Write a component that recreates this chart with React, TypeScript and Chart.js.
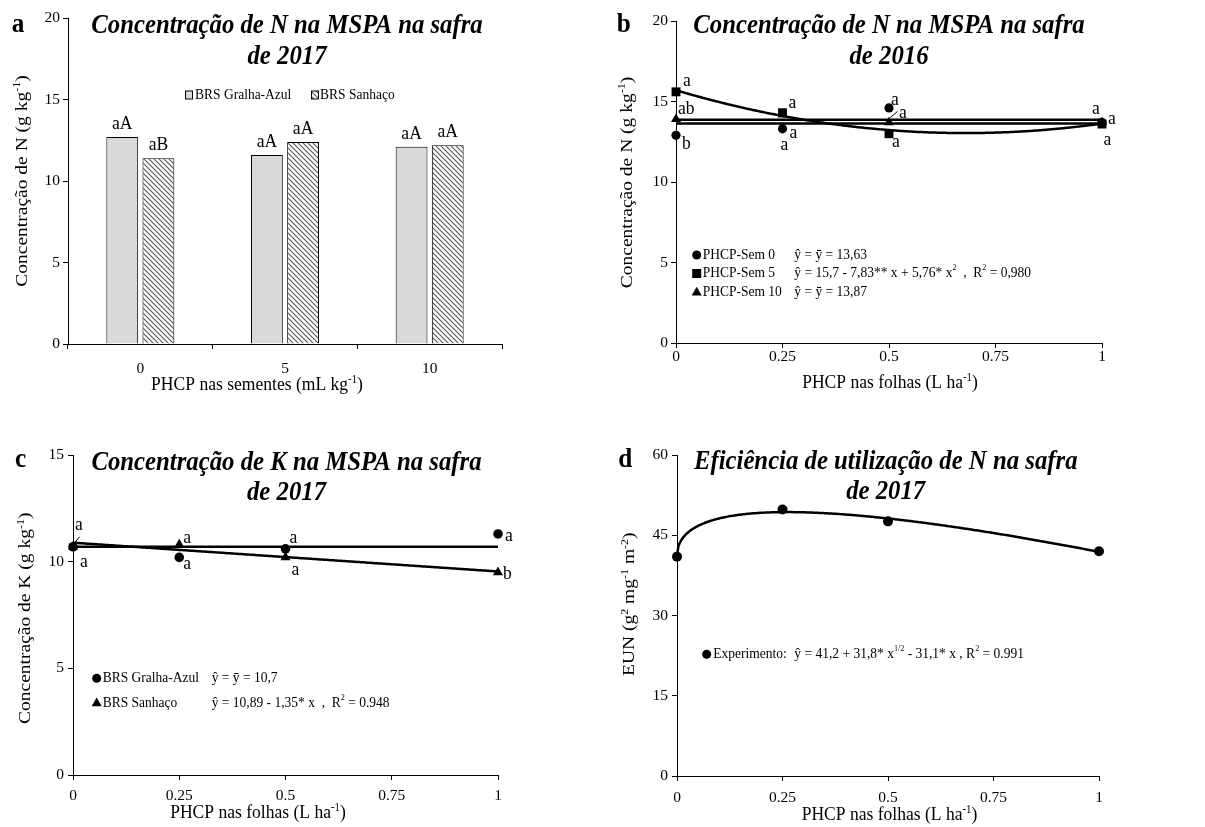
import React, { useEffect, useRef } from "react";
import { Chart, registerables } from "chart.js";

Chart.register(...registerables);

const SERIF = '"Liberation Serif", "Times New Roman", Times, serif';
const SX = 0.9;
Chart.defaults.font.family = SERIF;
Chart.defaults.color = "#000";

// ===== Panel a: N concentration 2017 (bars) =====
const seedDoseLabels = ["0", "5", "10"];
const nGralhaAzul2017 = [12.7, 11.6, 12.1];
const nSanhaco2017 = [11.4, 12.4, 12.2];
const lettersGralhaAzul2017 = ["aA", "aA", "aA"];
const lettersSanhaco2017 = ["aB", "aA", "aA"];
const yTicksN = [0, 5, 10, 15, 20];

// ===== Panel b: N concentration 2016 =====
const leafDoses = [0, 0.25, 0.5, 1];
const xTicksLeaf = [0, 0.25, 0.5, 0.75, 1];
const nSem0_2016 = [12.9, 13.3, 14.6, 13.7];
const nSem5_2016 = [15.6, 14.3, 13.0, 13.6];
const nSem10_2016 = [13.9, 14.2, 13.7, 13.7];
const lettersSem0 = ["b", "a", "a", "a"];
const lettersSem5 = ["a", "a", "a", "a"];
const lettersSem10 = ["ab", "a", "a", "a"];
const fitSem0 = [13.63];
const fitSem5 = [15.7, -7.83, 5.76];
const fitSem10 = [13.87];

// ===== Panel c: K concentration 2017 =====
const kGralhaAzul2017 = [10.7, 10.2, 10.6, 11.3];
const kSanhaco2017 = [10.7, 10.8, 10.2, 9.5];
const lettersKGralha = ["a", "a", "a", "a"];
const lettersKSanhaco = ["a", "a", "a", "b"];
const fitKGralha = [10.7];
const fitKSanhaco = [10.89, -1.35];
const yTicksK = [0, 5, 10, 15];

// ===== Panel d: N use efficiency 2017 =====
const eun2017 = [41.0, 49.8, 47.6, 42.0];
const fitEun = [41.2, 31.8, -31.1]; // a + b*sqrt(x) + c*x
const yTicksEun = [0, 15, 30, 45, 60];

// ===== styling offsets for letters (dx to left edge, dy to centre) =====
const offSem5 = [[7, -11], [6, -10], [3, 8], [1.5, 16]];
const offSem0 = [[6, 9], [7, 4.5], [2, -8], [6, -4]];
const offSem10 = [[2, -10], [-2, 30], [10, -10], [-10, -14]];
const offKGralha = [[7, 15], [4, 6], [4, -11], [7, 2]];
const offKSanhaco = [[2, -22], [4, -7], [6, 12], [5, 2]];

type Seg = { t: string; sup?: boolean };
type TextItem = {
  segs: Seg[];
  x: number;
  y: number;
  size: number;
  align?: "left" | "center";
  style?: string;
  rotate?: boolean;
  baseline?: CanvasTextBaseline;
};
const S = (t: string): Seg => ({ t });
const U = (t: string): Seg => ({ t, sup: true });

function drawRich(ctx: CanvasRenderingContext2D, it: TextItem) {
  const pre = it.style ? it.style + " " : "";
  const main = `${pre}${it.size}px ${SERIF}`;
  const small = `${pre}${Math.round(it.size * 0.62)}px ${SERIF}`;
  const widths = it.segs.map((s) => {
    ctx.font = s.sup ? small : main;
    return ctx.measureText(s.t).width;
  });
  const total = widths.reduce((a, b) => a + b, 0);
  ctx.save();
  ctx.translate(it.x, it.y);
  if (it.rotate) {
    ctx.rotate(-Math.PI / 2);
    ctx.scale(1, SX);
  } else {
    ctx.scale(SX, 1);
  }
  let cx = it.align === "center" ? -total / 2 : 0;
  ctx.fillStyle = "#000";
  ctx.textAlign = "left";
  ctx.textBaseline = it.baseline || "alphabetic";
  it.segs.forEach((s, i) => {
    ctx.font = s.sup ? small : main;
    ctx.fillText(s.t, cx, s.sup ? -it.size * 0.36 : 0);
    cx += widths[i];
  });
  ctx.restore();
}

function drawMarker(ctx: CanvasRenderingContext2D, kind: string, x: number, y: number) {
  ctx.save();
  ctx.fillStyle = "#000";
  ctx.beginPath();
  if (kind === "circle") {
    ctx.arc(x, y, 4.5, 0, Math.PI * 2);
  } else if (kind === "rect") {
    ctx.rect(x - 4.5, y - 4.5, 9, 9);
  } else {
    const r = 5.8;
    ctx.moveTo(x, y - r);
    ctx.lineTo(x + r * 0.866, y + r / 2);
    ctx.lineTo(x - r * 0.866, y + r / 2);
    ctx.closePath();
  }
  ctx.fill();
  ctx.restore();
}

function textPlugin(getItems: (chart: any) => TextItem[], extra?: (chart: any, ctx: CanvasRenderingContext2D) => void) {
  return {
    id: "texts",
    afterDraw(chart: any) {
      const ctx = chart.ctx as CanvasRenderingContext2D;
      if (extra) extra(chart, ctx);
      getItems(chart).forEach((it) => drawRich(ctx, it));
    },
  };
}

type Fit = { kind: "poly" | "sqrt"; c: number[] };
function evalFit(f: Fit, x: number) {
  if (f.kind === "sqrt") return f.c[0] + f.c[1] * Math.sqrt(x) + f.c[2] * x;
  return f.c.reduce((acc, ck, k) => acc + ck * Math.pow(x, k), 0);
}
function fitPlugin(fits: Fit[]) {
  return {
    id: "fits",
    beforeDatasetsDraw(chart: any) {
      const { ctx, scales } = chart;
      const xs = scales.x;
      const ys = scales.y;
      const x0 = Math.min(...leafDoses);
      const x1 = Math.max(...leafDoses);
      ctx.save();
      ctx.strokeStyle = "#000";
      ctx.lineWidth = 2.5;
      ctx.lineJoin = "round";
      fits.forEach((f) => {
        ctx.beginPath();
        const n = 300;
        for (let k = 0; k <= n; k++) {
          const xv = x0 + ((x1 - x0) * k) / n;
          const px = xs.getPixelForValue(xv);
          const py = ys.getPixelForValue(evalFit(f, xv));
          if (k === 0) ctx.moveTo(px, py);
          else ctx.lineTo(px, py);
        }
        ctx.stroke();
      });
      ctx.restore();
    },
  };
}

const LETTER_SIZE = 19.5;

function pointLetters(chart: any, ds: number, letters: string[], offs: number[][]): TextItem[] {
  const meta = chart.getDatasetMeta(ds);
  return letters.map((t, i) => {
    const el = meta.data[i];
    return { segs: [S(t)], x: el.x + offs[i][0], y: el.y + offs[i][1], size: LETTER_SIZE, baseline: "middle" as CanvasTextBaseline };
  });
}

function makeHatch(ctxRef: CanvasRenderingContext2D) {
  const c = document.createElement("canvas");
  c.width = 5;
  c.height = 5;
  const g = c.getContext("2d")!;
  g.fillStyle = "#fff";
  g.fillRect(0, 0, 5, 5);
  g.strokeStyle = "#555";
  g.lineWidth = 1.1;
  g.beginPath();
  g.moveTo(-1, -1);
  g.lineTo(6, 6);
  g.moveTo(-1, 4);
  g.lineTo(1, 6);
  g.moveTo(4, -1);
  g.lineTo(6, 1);
  g.stroke();
  return ctxRef.createPattern(c, "repeat");
}

function scaleBase(ticksArr: number[] | null, w: number | null, h: number | null, pad: number, extra: any = {}) {
  const s: any = {
    border: { display: true, color: "#000", width: 1 },
    grid: { display: true, drawOnChartArea: false, drawTicks: true, tickLength: 5, color: "#000", lineWidth: 1 },
    ticks: { color: "#000", font: { family: SERIF, size: 15.5 }, padding: pad, autoSkip: false, maxRotation: 0 },
    afterFit: (sc: any) => {
      if (w !== null) sc.width = w;
      if (h !== null) sc.height = h;
    },
    ...extra,
  };
  if (ticksArr) {
    s.afterBuildTicks = (sc: any) => {
      sc.ticks = ticksArr.map((v) => ({ value: v }));
    };
    s.ticks.callback = (v: any) => String(v);
  }
  return s;
}

function baseOptions(W: number, H: number, area: { l: number; t: number; r: number; b: number }, xScale: any, yScale: any) {
  return {
    responsive: false,
    animation: false,
    devicePixelRatio: 1,
    events: [],
    layout: { padding: { left: 0, top: area.t, right: W - area.r, bottom: 0 } },
    plugins: { legend: { display: false }, tooltip: { enabled: false }, title: { display: false } },
    scales: { x: xScale, y: yScale },
  };
}

function configA(canvas: HTMLCanvasElement) {
  const W = 600, H = 400;
  const area = { l: 68, t: 18, r: 502, b: 344 };
  const hatch = makeHatch(canvas.getContext("2d")!);
  return {
    type: "bar",
    data: {
      labels: seedDoseLabels,
      datasets: [
        { label: "BRS Gralha-Azul", data: nGralhaAzul2017, backgroundColor: "#d9d9d9", borderColor: "#000", borderWidth: 1, barPercentage: 0.88, categoryPercentage: 0.5 },
        { label: "BRS Sanhaço", data: nSanhaco2017, backgroundColor: hatch, borderColor: "#000", borderWidth: 1, barPercentage: 0.88, categoryPercentage: 0.5 },
      ],
    },
    options: baseOptions(
      W, H, area,
      scaleBase(null, null, H - area.b, 11, { type: "category", grid: { display: true, drawOnChartArea: false, drawTicks: true, tickLength: 5, color: "#000", offset: true } }),
      scaleBase(yTicksN, area.l, null, 3, { type: "linear", min: 0, max: 20 })
    ),
    plugins: [
      textPlugin(
        (chart) => {
          const items: TextItem[] = [
            { segs: [S("a")], x: 11.7, y: 31.7, size: 28, style: "bold" },
            { segs: [S("Concentração de N na MSPA na safra")], x: 287, y: 33, size: 27.5, style: "italic bold", align: "center" },
            { segs: [S("de 2017")], x: 287, y: 64, size: 27.5, style: "italic bold", align: "center" },
            { segs: [S("Concentração de N (g kg"), U("-1"), S(")")], x: 26.7, y: 181, size: 19.5, rotate: true, align: "center" },
            { segs: [S("PHCP nas sementes (mL kg"), U("-1"), S(")")], x: 257, y: 390, size: 19.5, align: "center" },
            { segs: [S("BRS Gralha-Azul")], x: 195, y: 95.5, size: 15, baseline: "middle" },
            { segs: [S("BRS Sanhaço")], x: 320, y: 95.5, size: 15, baseline: "middle" },
          ];
          [lettersGralhaAzul2017, lettersSanhaco2017].forEach((L, ds) => {
            const meta = chart.getDatasetMeta(ds);
            L.forEach((t, i) => {
              const el = meta.data[i];
              items.push({ segs: [S(t)], x: el.x, y: el.y - 8, size: LETTER_SIZE, align: "center" });
            });
          });
          return items;
        },
        (chart, ctx) => {
          ctx.save();
          ctx.lineWidth = 1;
          ctx.strokeStyle = "#000";
          ctx.fillStyle = "#d9d9d9";
          ctx.fillRect(185.5, 91, 7, 8);
          ctx.strokeRect(185.5, 91, 7, 8);
          ctx.fillStyle = hatch as any;
          ctx.fillRect(311.5, 91, 7, 8);
          ctx.strokeRect(311.5, 91, 7, 8);
          ctx.restore();
        }
      ),
    ],
  };
}

function leafScatter(values: number[]) {
  return leafDoses.map((x, i) => ({ x, y: values[i] }));
}

function pointDs(label: string, values: number[], style: string, r: number) {
  return { label, data: leafScatter(values), pointStyle: style, pointRadius: r, backgroundColor: "#000", borderColor: "#000", borderWidth: 0, showLine: false, clip: false };
}

function configB() {
  const W = 605, H = 400;
  const area = { l: 76, t: 21, r: 502, b: 343 };
  return {
    type: "scatter",
    data: {
      datasets: [
        pointDs("PHCP-Sem 5", nSem5_2016, "rect", 6.3),
        pointDs("PHCP-Sem 0", nSem0_2016, "circle", 4.6),
        pointDs("PHCP-Sem 10", nSem10_2016, "triangle", 5.8),
      ],
    },
    options: baseOptions(
      W, H, area,
      scaleBase(xTicksLeaf, null, H - area.b, 0, { type: "linear", min: 0, max: 1 }),
      scaleBase(yTicksN, area.l, null, 3, { type: "linear", min: 0, max: 20 })
    ),
    plugins: [
      fitPlugin([
        { kind: "poly", c: fitSem0 },
        { kind: "poly", c: fitSem10 },
        { kind: "poly", c: fitSem5 },
      ]),
      textPlugin(
        (chart) => {
          const items: TextItem[] = [
            { segs: [S("b")], x: 16.7, y: 31.7, size: 28, style: "bold" },
            { segs: [S("Concentração de N na MSPA na safra")], x: 289, y: 33, size: 27.5, style: "italic bold", align: "center" },
            { segs: [S("de 2016")], x: 289, y: 64, size: 27.5, style: "italic bold", align: "center" },
            { segs: [S("Concentração de N (g kg"), U("-1"), S(")")], x: 31.7, y: 182.5, size: 19.5, rotate: true, align: "center" },
            { segs: [S("PHCP nas folhas (L ha"), U("-1"), S(")")], x: 290, y: 388.3, size: 19.5, align: "center" },
            { segs: [S("PHCP-Sem 0")], x: 102.7, y: 255, size: 15, baseline: "middle" },
            { segs: [S("ŷ = ȳ = 13,63")], x: 194.3, y: 255, size: 15, baseline: "middle" },
            { segs: [S("PHCP-Sem 5")], x: 102.7, y: 273.5, size: 15, baseline: "middle" },
            { segs: [S("ŷ = 15,7 - 7,83** x + 5,76* x"), U("2"), S("  ,  R"), U("2"), S(" = 0,980")], x: 194.3, y: 273.5, size: 15, baseline: "middle" },
            { segs: [S("PHCP-Sem 10")], x: 102.7, y: 292.5, size: 15, baseline: "middle" },
            { segs: [S("ŷ = ȳ = 13,87")], x: 194.3, y: 292.5, size: 15, baseline: "middle" },
          ];
          return items
            .concat(pointLetters(chart, 0, lettersSem5, offSem5))
            .concat(pointLetters(chart, 1, lettersSem0, offSem0))
            .concat(pointLetters(chart, 2, lettersSem10, offSem10));
        },
        (chart, ctx) => {
          drawMarker(ctx, "circle", 96.7, 255);
          drawMarker(ctx, "rect", 96.7, 273.5);
          drawMarker(ctx, "triangle", 96.7, 292.5);
          const p = chart.getDatasetMeta(2).data[2];
          ctx.save();
          ctx.strokeStyle = "#000";
          ctx.lineWidth = 1;
          ctx.beginPath();
          ctx.moveTo(p.x + 1.5, p.y - 5);
          ctx.lineTo(p.x + 8.5, p.y - 11);
          ctx.stroke();
          ctx.restore();
        }
      ),
    ],
  };
}

function configC() {
  const W = 600, H = 417;
  const area = { l: 73, t: 45, r: 498, b: 365 };
  return {
    type: "scatter",
    data: {
      datasets: [
        pointDs("BRS Gralha-Azul", kGralhaAzul2017, "circle", 4.8),
        pointDs("BRS Sanhaço", kSanhaco2017, "triangle", 5.8),
      ],
    },
    options: baseOptions(
      W, H, area,
      scaleBase(xTicksLeaf, null, H - area.b, 7, { type: "linear", min: 0, max: 1 }),
      scaleBase(yTicksK, area.l, null, 4, { type: "linear", min: 0, max: 15 })
    ),
    plugins: [
      fitPlugin([
        { kind: "poly", c: fitKGralha },
        { kind: "poly", c: fitKSanhaco },
      ]),
      textPlugin(
        (chart) => {
          const items: TextItem[] = [
            { segs: [S("c")], x: 15, y: 56.7, size: 28, style: "bold" },
            { segs: [S("Concentração de K na MSPA na safra")], x: 286.5, y: 60, size: 27.5, style: "italic bold", align: "center" },
            { segs: [S("de 2017")], x: 286.5, y: 89.5, size: 27.5, style: "italic bold", align: "center" },
            { segs: [S("Concentração de K (g kg"), U("-1"), S(")")], x: 30, y: 208.3, size: 19.5, rotate: true, align: "center" },
            { segs: [S("PHCP nas folhas (L ha"), U("-1"), S(")")], x: 258, y: 408.3, size: 19.5, align: "center" },
            { segs: [S("BRS Gralha-Azul")], x: 102.7, y: 268.3, size: 15, baseline: "middle" },
            { segs: [S("ŷ = ȳ = 10,7")], x: 211.7, y: 268.3, size: 15, baseline: "middle" },
            { segs: [S("BRS Sanhaço")], x: 102.7, y: 293.3, size: 15, baseline: "middle" },
            { segs: [S("ŷ = 10,89 - 1,35* x  ,  R"), U("2"), S(" = 0.948")], x: 211.7, y: 293.3, size: 15, baseline: "middle" },
          ];
          return items
            .concat(pointLetters(chart, 0, lettersKGralha, offKGralha))
            .concat(pointLetters(chart, 1, lettersKSanhaco, offKSanhaco));
        },
        (chart, ctx) => {
          drawMarker(ctx, "circle", 96.7, 268.3);
          drawMarker(ctx, "triangle", 96.7, 293.3);
          const p = chart.getDatasetMeta(1).data[0];
          ctx.save();
          ctx.strokeStyle = "#000";
          ctx.lineWidth = 1;
          ctx.beginPath();
          ctx.moveTo(p.x + 1.3, p.y - 3.5);
          ctx.lineTo(p.x + 6.6, p.y - 10);
          ctx.stroke();
          ctx.restore();
        }
      ),
    ],
  };
}

function configD() {
  const W = 605, H = 417;
  const area = { l: 77, t: 45, r: 499, b: 366 };
  return {
    type: "scatter",
    data: {
      datasets: [pointDs("Experimento", eun2017, "circle", 5)],
    },
    options: baseOptions(
      W, H, area,
      scaleBase(xTicksLeaf, null, H - area.b, 8, { type: "linear", min: 0, max: 1 }),
      scaleBase(yTicksEun, area.l, null, 4, { type: "linear", min: 0, max: 60 })
    ),
    plugins: [
      fitPlugin([{ kind: "sqrt", c: fitEun }]),
      textPlugin(
        () => [
          { segs: [S("d")], x: 18.3, y: 56.7, size: 28, style: "bold" },
          { segs: [S("Eficiência de utilização de N na safra")], x: 285.7, y: 59.3, size: 27.5, style: "italic bold", align: "center" },
          { segs: [S("de 2017")], x: 285.7, y: 89.3, size: 27.5, style: "italic bold", align: "center" },
          { segs: [S("EUN (g"), U("2"), S(" mg"), U("-1"), S(" m"), U("-2"), S(")")], x: 34.3, y: 194.2, size: 19.5, rotate: true, align: "center" },
          { segs: [S("PHCP nas folhas (L ha"), U("-1"), S(")")], x: 289.5, y: 410, size: 19.5, align: "center" },
          { segs: [S("Experimento:")], x: 113.3, y: 244.3, size: 15, baseline: "middle" },
          { segs: [S("ŷ = 41,2 + 31,8* x"), U("1/2"), S(" - 31,1* x , R"), U("2"), S(" = 0.991")], x: 194.3, y: 244.3, size: 15, baseline: "middle" },
        ],
        (chart, ctx) => {
          drawMarker(ctx, "circle", 106.7, 244.3);
        }
      ),
    ],
  };
}

function ChartPanel(props: { left: number; top: number; width: number; height: number; make: (c: HTMLCanvasElement) => any }) {
  const ref = useRef<HTMLCanvasElement>(null);
  useEffect(() => {
    const canvas = ref.current!;
    const chart = new Chart(canvas, props.make(canvas));
    return () => chart.destroy();
  }, []);
  return (
    <canvas
      ref={ref}
      width={props.width}
      height={props.height}
      style={{ position: "absolute", left: props.left, top: props.top, width: props.width, height: props.height }}
    />
  );
}

export default function App() {
  return (
    <div style={{ position: "absolute", left: 0, top: 0, width: 1205, height: 827, background: "#fff", overflow: "hidden" }}>
      <ChartPanel left={0} top={0} width={600} height={400} make={configA} />
      <ChartPanel left={600} top={0} width={605} height={400} make={() => configB()} />
      <ChartPanel left={0} top={410} width={600} height={417} make={() => configC()} />
      <ChartPanel left={600} top={410} width={605} height={417} make={() => configD()} />
    </div>
  );
}
